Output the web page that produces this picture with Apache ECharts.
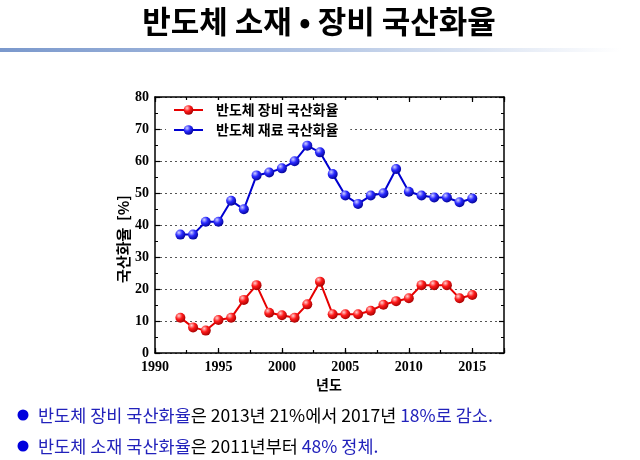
<!DOCTYPE html>
<html>
<head>
<meta charset="utf-8">
<script src="https://cdn.jsdelivr.net/npm/echarts@6/dist/echarts.min.js"></script>
<style>
html,body{margin:0;padding:0;background:#fff;}
#c{width:640px;height:460px;}
</style>
</head>
<body>
<div id="c"></div>
<script>
var years = [1992,1993,1994,1995,1996,1997,1998,1999,2000,2001,2002,2003,2004,2005,2006,2007,2008,2009,2010,2011,2012,2013,2014,2015];
var equipment = [11,8,7,10.3,11,16.6,21.2,12.6,11.8,11,15.2,22.3,12.1,12.1,12.1,13.2,15.1,16.2,17.1,21.2,21.2,21.2,17.1,18.1];
var material = [37,37,41,41,47.6,44.9,55.5,56.4,57.7,59.9,64.8,62.7,55.9,49.2,46.6,49.2,49.9,57.5,50.4,49.2,48.6,48.6,47.1,48.3];
var seriesNames = ['반도체 장비 국산화율','반도체 재료 국산화율'];
var titleText = '반도체 소재 • 장비 국산화율';
var yAxisName = '국산화율  [%]';
var xAxisName = '년도';
var note1 = ['반도체 장비 국산화율','은 2013년 21%에서 2017년 ','18%로 감소.'];
var note2 = ['반도체 소재 국산화율','은 2011년부터 ','48% 정체.'];

function pairs(xs, ys){ return xs.map(function(x,i){ return [x, ys[i]]; }); }
function ball(light, mid, dark){
  return new echarts.graphic.RadialGradient(0.35,0.3,0.75,[
    {offset:0,color:light},{offset:0.45,color:mid},{offset:1,color:dark}]);
}
var chart = echarts.init(document.getElementById('c'));
var serif = '"Liberation Serif", "DejaVu Serif", serif';
var kr = '"Noto Sans CJK KR", sans-serif';
var axLine = {show:true, lineStyle:{color:'#000', width:1.5}};
function xAx(pos, interval, tickLen, labels, line){
  return {type:'value', position:pos, min:1990, max:2017.5, interval:interval, gridIndex:0,
    axisLine: line ? axLine : {show:false},
    axisTick:{show:true, inside:true, length:tickLen, lineStyle:{color:'#000', width:1.2}},
    axisLabel: labels ? {show:true, margin:7, color:'#000', fontFamily:serif, fontWeight:'bold', fontSize:14,
      formatter:function(v){ return (v % 5 === 0) ? String(v) : ''; }} : {show:false},
    splitLine:{show:false}};
}
function yAx(pos, labels, split){
  return {type:'value', position:pos, min:0, max:80, interval:10, gridIndex:0,
    axisLine: axLine,
    axisTick:{show:true, inside:true, length:5, lineStyle:{color:'#000', width:1.2}},
    minorTick:{show:true, splitNumber:2, length:3, lineStyle:{color:'#000', width:1}},
    axisLabel: labels ? {show:true, margin:6, color:'#000', fontFamily:serif, fontWeight:'bold', fontSize:14} : {show:false},
    splitLine: split ? {show:true, lineStyle:{color:'#555', width:1, type:[2,3]}} : {show:false}};
}
var richNote = {
  b:{fontFamily:kr, fontSize:17.5, fill:'#2222bb', color:'#2222bb'},
  k:{fontFamily:kr, fontSize:17.5, fill:'#000', color:'#000'}
};
var option = {
  animation:false,
  backgroundColor:'#fff',
  grid:{left:155, top:97, width:349, height:256, containLabel:false},
  xAxis:[
    xAx('bottom',5,5,true,true),
    xAx('bottom',2.5,3,false,false),
    xAx('top',5,5,false,true),
    xAx('top',2.5,3,false,false)
  ],
  yAxis:[ yAx('left',true,true), yAx('right',false,false) ],
  legend:{
    left:166, top:100, orient:'vertical',
    backgroundColor:'#fff', padding:[3,12,3,7],
    itemWidth:29, itemHeight:12, itemGap:6,
    textStyle:{fontFamily:kr, fontWeight:'bold', fontSize:14, color:'#000', padding:[0,0,0,8]},
    data: seriesNames
  },
  series:[
    {name:seriesNames[0], type:'line', xAxisIndex:0, yAxisIndex:0, data:pairs(years, equipment),
     symbol:'circle', symbolSize:10,
     lineStyle:{color:'#e60000', width:2},
     itemStyle:{color:ball('#ffd0d0','#ff1a1a','#a00000'), borderWidth:0},
     z:3},
    {name:seriesNames[1], type:'line', xAxisIndex:0, yAxisIndex:0, data:pairs(years, material),
     symbol:'circle', symbolSize:10,
     lineStyle:{color:'#0000d0', width:2},
     itemStyle:{color:ball('#d0d0ff','#2a2aff','#000090'), borderWidth:0},
     z:3}
  ],
  graphic:[
    {type:'text', x:319, y:21, style:{text:titleText, font:'bold 31px '+kr, fill:'#000', align:'center', verticalAlign:'middle'}},
    {type:'rect', shape:{x:0, y:48, width:640, height:4},
     style:{fill:new echarts.graphic.LinearGradient(0,0,1,0,[
       {offset:0,color:'#7a98cc'},{offset:0.5,color:'#b4c6e4'},{offset:0.97,color:'#ffffff'},{offset:1,color:'#ffffff'}])}},
    {type:'text', x:123, y:239, rotation:Math.PI/2,
     style:{text:yAxisName, font:'bold 15px '+kr, fill:'#000', align:'center', verticalAlign:'middle'}},
    {type:'text', x:329, y:385,
     style:{text:xAxisName, font:'bold 14px '+kr, fill:'#000', align:'center', verticalAlign:'middle'}},
    {type:'circle', shape:{cx:23, cy:415, r:5.5}, style:{fill:'#0000dd'}},
    {type:'circle', shape:{cx:23, cy:446, r:5.5}, style:{fill:'#0000dd'}},
    {type:'text', x:38, y:415,
     style:{text:'{b|'+note1[0]+'}{k|'+note1[1]+'}{b|'+note1[2]+'}', verticalAlign:'middle', rich:richNote}},
    {type:'text', x:38, y:446,
     style:{text:'{b|'+note2[0]+'}{k|'+note2[1]+'}{b|'+note2[2]+'}', verticalAlign:'middle', rich:richNote}}
  ]
};
chart.setOption(option);
</script>
</body>
</html>
